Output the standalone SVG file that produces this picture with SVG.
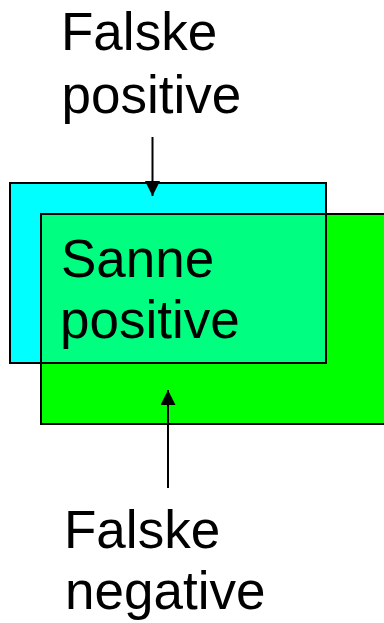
<svg xmlns="http://www.w3.org/2000/svg" width="384" height="623" viewBox="0 0 384 623">
<style>
.lbl{font-family:"Liberation Sans",Arial,sans-serif;font-size:53px;fill:#000}
.bd{fill:none;stroke:#000;stroke-width:2}
.ar{stroke:#000;stroke-width:2;fill:none}
</style>
<defs>
<marker id="ah" markerWidth="15" markerHeight="15" viewBox="0 0 15 15" refX="15" refY="7.5" orient="auto" markerUnits="userSpaceOnUse">
<path d="M0,0 L15,7.5 L0,15 Z" fill="#000"/>
</marker>
</defs>
<rect width="384" height="623" fill="#fff"/>
<g id="falske-positive-set">
<rect x="10" y="183" width="316" height="180" fill="#00FFFF"/>
</g>
<g id="falske-negative-set">
<rect x="41" y="214" width="345" height="210" fill="#00FF00"/>
</g>
<g id="sanne-positive">
<rect x="41" y="214" width="285" height="149" fill="#00FF80"/>
<rect class="bd" x="10" y="183" width="316" height="180"/>
<rect class="bd" x="41" y="214" width="345" height="210"/>
<text class="lbl" x="61" y="277">Sanne</text>
<text class="lbl" x="60" y="338">positive</text>
</g>
<g id="falske-positive">
<text class="lbl" x="61" y="50">Falske</text>
<text class="lbl" x="61.5" y="113">positive</text>
</g>
<g id="falske-negative">
<text class="lbl" x="64" y="548">Falske</text>
<text class="lbl" x="65" y="609">negative</text>
</g>
<g id="connectors">
<line class="ar" x1="152.5" y1="137" x2="152.5" y2="196" marker-end="url(#ah)"/>
<line class="ar" x1="168" y1="488" x2="168" y2="390" marker-end="url(#ah)"/>
</g>
</svg>
